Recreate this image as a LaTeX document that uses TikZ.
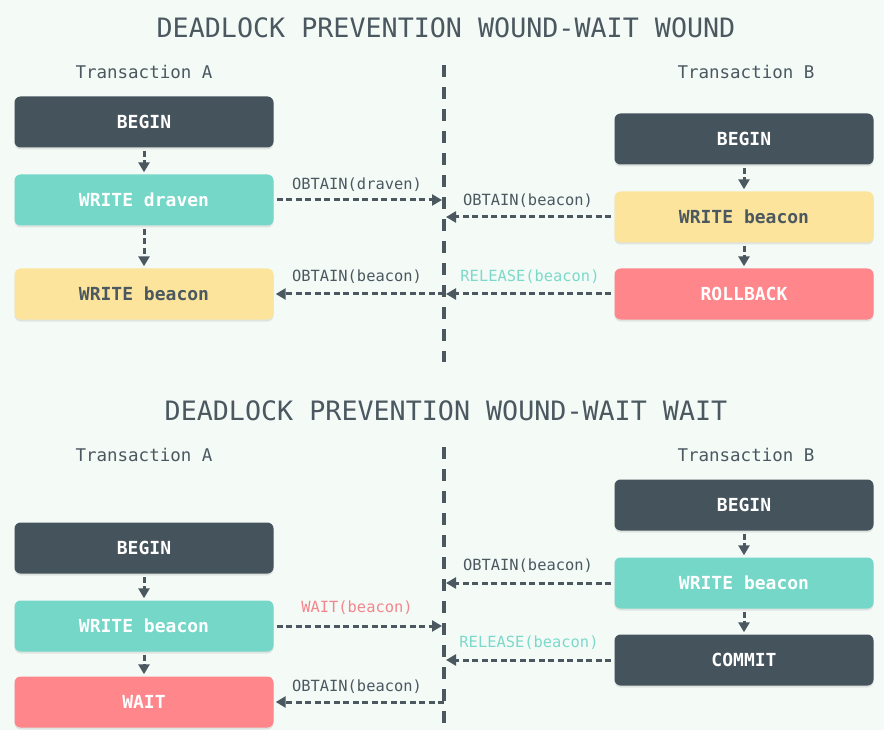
\documentclass[tikz,border=0pt]{standalone}
\usepackage{fontspec}
\setmonofont{DejaVu Sans Mono}
\usepackage{tikz}
\usetikzlibrary{arrows.meta,calc,positioning,shadows}
\definecolor{bgmint}{HTML}{F4FBF7}
\definecolor{slate}{HTML}{45535C}
\definecolor{tealbox}{HTML}{74D7C8}
\definecolor{yellowbox}{HTML}{FCE49C}
\definecolor{redbox}{HTML}{FF868A}
\definecolor{inkgrey}{HTML}{4B5860}
\definecolor{releasetxt}{HTML}{7CD9CA}
\definecolor{waittxt}{HTML}{F2868D}

\begin{document}
\begin{tikzpicture}[x=1pt,y=-1pt,
  box/.style={rounded corners=6pt, minimum width=259pt, minimum height=51pt,
    font=\ttfamily\bfseries\fontsize{18}{18}\selectfont, text=white,
    drop shadow={shadow xshift=0pt, shadow yshift=-2pt, opacity=0.18}},
  darkbox/.style={box, fill=slate},
  tealnode/.style={box, fill=tealbox},
  yellownode/.style={box, fill=yellowbox, text=inkgrey},
  rednode/.style={box, fill=redbox},
  heading/.style={font=\ttfamily\fontsize{26.7}{26.7}\selectfont, text=inkgrey},
  colname/.style={font=\ttfamily\fontsize{17.5}{17.5}\selectfont, text=inkgrey},
  lbl/.style={font=\ttfamily\fontsize{15.4}{15.4}\selectfont, text=inkgrey},
  flow/.style={draw=inkgrey, line width=3pt, dash pattern=on 6pt off 3.5pt,
    -{Triangle[length=10pt,width=11pt]}, shorten <=3pt, shorten >=2pt},
  midline/.style={draw=inkgrey, line width=3.4pt, dash pattern=on 12pt off 10pt}
]
\fill[bgmint] (0,0) rectangle (884,730);
\useasboundingbox (0,0) rectangle (884,730);

% --- wound ---
\node[heading] (title1) at (446,28) {DEADLOCK PREVENTION WOUND-WAIT WOUND};
\node[colname] (tA1) at (144,72) {Transaction A};
\node[colname] (tB1) at (746,72) {Transaction B};
\coordinate (top1) at (444,65);
\coordinate (bot1) at (444,362);
\draw[midline] (top1) -- (bot1);

\node[darkbox] (bgA1) at (144,122) {BEGIN};
\node[tealnode] (wdA1) at (144,200) {WRITE draven};
\node[yellownode] (wbA1) at (144,294) {WRITE beacon};
\node[darkbox] (bgB1) at (744,139) {BEGIN};
\node[yellownode] (wbB1) at (744,217) {WRITE beacon};
\node[rednode] (rbB1) at (744,294) {ROLLBACK};

\draw[flow] (bgA1) -- (wdA1);
\draw[flow] (wdA1) -- (wbA1);
\draw[flow] (bgB1) -- (wbB1);
\draw[flow] (wbB1) -- (rbB1);

\draw[flow] (wdA1.east) -- (wdA1.east -| top1);
\node[lbl] at (357,185) {OBTAIN(draven)};
\draw[flow] (wbB1.west) -- (wbB1.west -| top1);
\node[lbl] at (528,201) {OBTAIN(beacon)};
\draw[flow] (rbB1.west) -- (rbB1.west -| top1);
\draw[flow, shorten <=0pt] (rbB1.west -| top1) -- (wbA1.east);
\node[lbl, text=releasetxt] at (530,277) {RELEASE(beacon)};
\node[lbl] at (357,277) {OBTAIN(beacon)};

% --- wait ---
\node[heading] (title2) at (446,411) {DEADLOCK PREVENTION WOUND-WAIT WAIT};
\node[colname] (tA2) at (144,455) {Transaction A};
\node[colname] (tB2) at (746,455) {Transaction B};
\coordinate (top2) at (444,447);
\coordinate (bot2) at (444,730);
\draw[midline] (top2) -- (bot2);

\node[darkbox] (bgA2) at (144,548) {BEGIN};
\node[tealnode] (wbA2) at (144,626) {WRITE beacon};
\node[rednode] (wtA2) at (144,702) {WAIT};
\node[darkbox] (bgB2) at (744,505) {BEGIN};
\node[tealnode] (wbB2) at (744,583) {WRITE beacon};
\node[darkbox] (cmB2) at (744,660) {COMMIT};

\draw[flow] (bgA2) -- (wbA2);
\draw[flow] (wbA2) -- (wtA2);
\draw[flow] (bgB2) -- (wbB2);
\draw[flow] (wbB2) -- (cmB2);

\draw[flow] (wbB2.west) -- (wbB2.west -| top2);
\node[lbl] at (528,566) {OBTAIN(beacon)};
\draw[flow] (wbA2.east) -- (wbA2.east -| top2);
\node[lbl, text=waittxt] at (357,608) {WAIT(beacon)};
\draw[flow] (cmB2.west) -- (cmB2.west -| top2);
\node[lbl, text=releasetxt] at (529,643) {RELEASE(beacon)};
\draw[flow, shorten <=0pt] (wtA2.east -| top2) -- (wtA2.east);
\node[lbl] at (357,687) {OBTAIN(beacon)};
\end{tikzpicture}
\end{document}
